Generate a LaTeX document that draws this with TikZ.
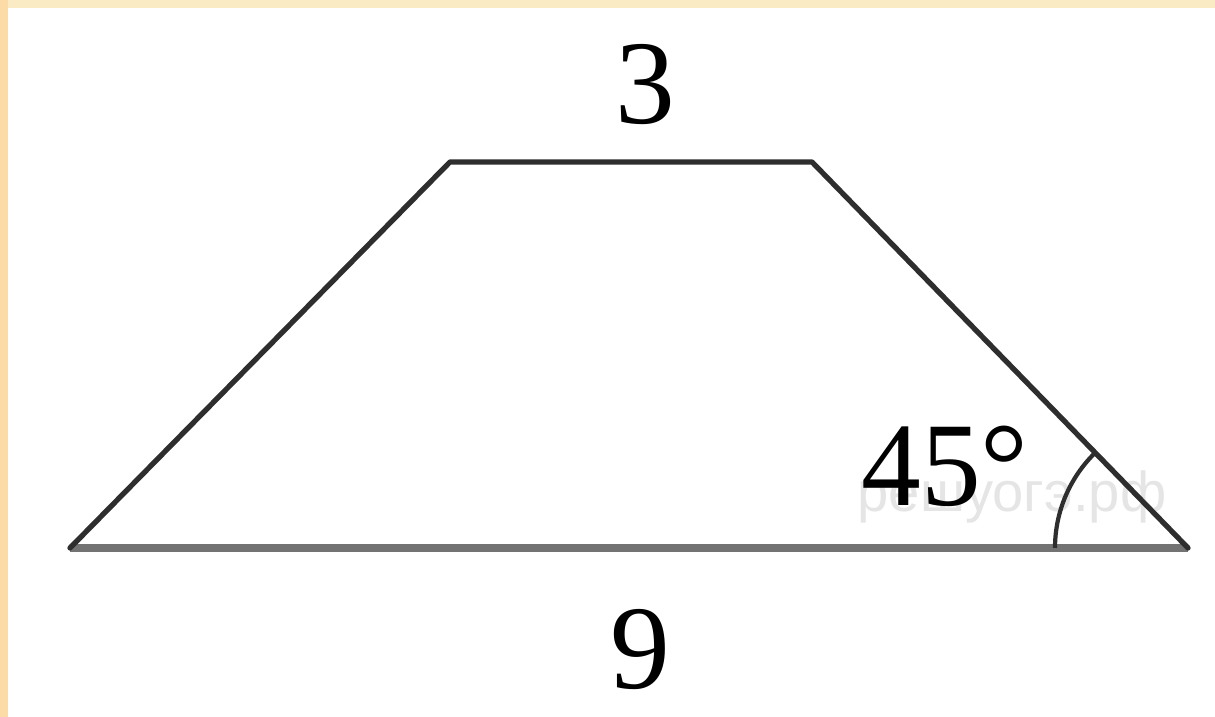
\documentclass[tikz,border=0pt]{standalone}
\usepackage{fontspec}
\setmainfont{Liberation Serif}
\newfontfamily\wmfont{Liberation Sans}
\definecolor{paper}{HTML}{FBEBC4}
\definecolor{edge}{HTML}{2E2E2E}
\tikzset{
	side/.style = {edge, line width=1.5pt, line cap=round, line join=round},
	base/.style = {black!55, line width=2.3pt},
	lbl/.style = {font=\fontsize{34}{40}\selectfont, inner sep=0pt}
}
\begin{document}
\begin{tikzpicture}
\useasboundingbox (0,0) rectangle (12.15,7.17);
\fill[white] (0,0) rectangle (12.15,7.17);
\fill[paper] (0,7.09) rectangle (12.15,7.17);
\fill[paper!85!orange] (0,0) rectangle (0.08,7.17);
% vertices
\coordinate (A) at (0.70,1.69);
\coordinate (B) at (11.88,1.69);
\coordinate (C) at (8.12,5.55);
\coordinate (D) at (4.50,5.55);
\node[black!10, font=\wmfont\fontsize{16}{20}\selectfont] (wm) at (10.12,2.2) {решуогэ.рф};
\draw[base] (A) -- (B);
\draw[side] (A) -- (D) -- (C) -- (B);
\draw[edge, line width=1.2pt] (B) ++(180:1.33) arc[start angle=180, end angle=134, radius=1.33];
\node[lbl] (top) at (6.45,6.32) {3};
\node[lbl] (bottom) at (6.40,0.67) {9};
\node[lbl] (angle) at (9.45,2.51) {45°};
\end{tikzpicture}
\end{document}
